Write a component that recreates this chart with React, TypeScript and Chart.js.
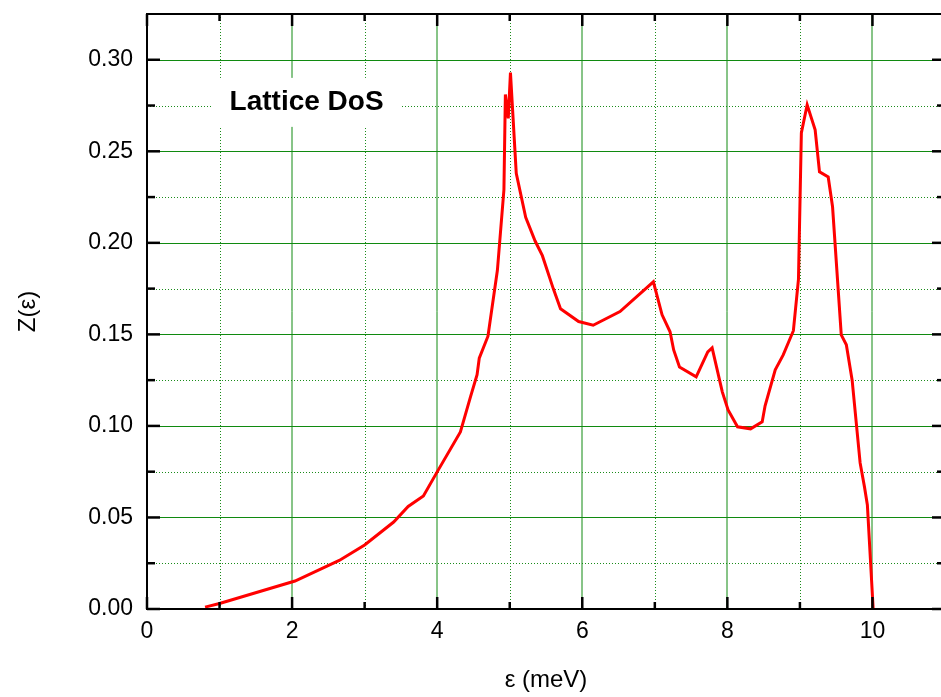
import React, { useEffect, useRef } from "react";
import { Chart, registerables } from "chart.js";

Chart.register(...registerables);

// Energy (meV) and density of states Z(ε)
const ENERGY = [
  0.8, 1.0, 2.04, 2.65, 3.0, 3.4, 3.6, 3.81, 4.0, 4.32, 4.46, 4.55, 4.58, 4.7, 4.83,
  4.92, 4.94, 4.98, 5.01, 5.09, 5.22, 5.35, 5.45, 5.6, 5.7, 5.95, 6.15, 6.52, 6.98,
  7.1, 7.21, 7.26, 7.34, 7.57, 7.73, 7.79, 7.93, 8.01, 8.14, 8.32, 8.48, 8.52, 8.66,
  8.77, 8.91, 8.98, 9.02, 9.1, 9.21, 9.27, 9.39, 9.45, 9.57, 9.64, 9.72, 9.83, 9.89,
  9.93, 10.01,
];
const DOS = [
  0.001, 0.003, 0.0153, 0.0265, 0.035, 0.0475, 0.056, 0.0617, 0.0749, 0.0967, 0.116,
  0.128, 0.137, 0.149, 0.185, 0.229, 0.281, 0.268, 0.293, 0.238, 0.214, 0.201, 0.193,
  0.175, 0.164, 0.157, 0.155, 0.1625, 0.1787, 0.1607, 0.1514, 0.1415, 0.1322, 0.1268,
  0.1404, 0.1426, 0.1186, 0.1087, 0.0995, 0.0984, 0.1022, 0.111, 0.1306, 0.1388,
  0.152, 0.18, 0.26, 0.2754, 0.2617, 0.2388, 0.236, 0.2197, 0.1497, 0.1443, 0.125,
  0.0798, 0.0667, 0.0568, 0.0,
];

const X_MIN = 0;
const X_MAX = 11;
const X_STEP = 2;
const Y_MIN = 0;
const Y_MAX = 0.325;
const Y_STEP = 0.05;
const X_MAJOR = [0, 2, 4, 6, 8, 10];
const X_MINOR = [1, 3, 5, 7, 9];
const Y_MAJOR = [0, 0.05, 0.1, 0.15, 0.2, 0.25, 0.3];
const Y_MINOR = [0.025, 0.075, 0.125, 0.175, 0.225, 0.275];

const X_TITLE = "ε (meV)";
const Y_TITLE = "Z(ε)";
const LABEL_TEXT = "Lattice DoS";
const LABEL_AT = { x: 2.2, y: 0.277 };

const FONT = "'Liberation Sans', Arial, Helvetica, sans-serif";

const framePlugin = {
  id: "frameGrid",
  beforeDatasetsDraw(chart: any) {
    const { ctx, chartArea: a, scales } = chart;
    const x = scales.x;
    const y = scales.y;
    ctx.save();
    const line = (x1: number, y1: number, x2: number, y2: number) => {
      ctx.beginPath();
      ctx.moveTo(x1, y1);
      ctx.lineTo(x2, y2);
      ctx.stroke();
    };
    // minor dotted grid
    ctx.strokeStyle = "#1a8c1a";
    ctx.lineWidth = 1;
    ctx.setLineDash([1, 2]);
    X_MINOR.forEach((v) => {
      const px = Math.round(x.getPixelForValue(v)) + 0.5;
      line(px, a.top, px, a.bottom);
    });
    Y_MINOR.forEach((v) => {
      const py = Math.round(y.getPixelForValue(v)) + 0.5;
      line(a.left, py, a.right, py);
    });
    // major solid grid
    ctx.setLineDash([]);
    ctx.strokeStyle = "#108a10";
    X_MAJOR.filter((v) => v !== X_MIN).forEach((v) => {
      const px = Math.round(x.getPixelForValue(v));
      line(px, a.top, px, a.bottom);
    });
    Y_MAJOR.filter((v) => v !== Y_MIN).forEach((v) => {
      const py = Math.round(y.getPixelForValue(v)) + 0.5;
      line(a.left, py, a.right, py);
    });
    ctx.restore();
  },
  afterDatasetsDraw(chart: any) {
    const { ctx, chartArea: a, scales } = chart;
    const x = scales.x;
    const y = scales.y;
    ctx.save();
    // label with white box
    const lx = x.getPixelForValue(LABEL_AT.x);
    const ly = y.getPixelForValue(LABEL_AT.y);
    ctx.font = `bold 28px ${FONT}`;
    const w = ctx.measureText(LABEL_TEXT).width;
    ctx.fillStyle = "#ffffff";
    ctx.fillRect(lx - w / 2 - 17, ly - 24, w + 34, 49);
    ctx.fillStyle = "#000000";
    ctx.textAlign = "center";
    ctx.textBaseline = "middle";
    ctx.fillText(LABEL_TEXT, lx, ly);

    // frame
    ctx.strokeStyle = "#000000";
    ctx.lineWidth = 2;
    ctx.setLineDash([]);
    ctx.beginPath();
    ctx.rect(a.left, a.top, a.right - a.left, a.bottom - a.top);
    ctx.stroke();

    // tick marks (inward)
    ctx.lineWidth = 2.5;
    const line = (x1: number, y1: number, x2: number, y2: number) => {
      ctx.beginPath();
      ctx.moveTo(x1, y1);
      ctx.lineTo(x2, y2);
      ctx.stroke();
    };
    const xt = (v: number, len: number) => {
      const px = x.getPixelForValue(v);
      line(px, a.bottom, px, a.bottom - len);
      line(px, a.top, px, a.top + len);
    };
    const yt = (v: number, len: number) => {
      const py = y.getPixelForValue(v);
      line(a.left, py, a.left + len, py);
      line(a.right, py, a.right - len, py);
    };
    X_MAJOR.forEach((v) => xt(v, 12));
    X_MINOR.forEach((v) => xt(v, 7));
    Y_MAJOR.forEach((v) => yt(v, 13));
    Y_MINOR.forEach((v) => yt(v, 8));
    ctx.restore();
  },
};

export default function App() {
  const canvasRef = useRef<HTMLCanvasElement | null>(null);

  useEffect(() => {
    const canvas = canvasRef.current;
    if (!canvas) return;
    const points = ENERGY.map((e, i) => ({ x: e, y: DOS[i] }));
    const chart = new Chart(canvas, {
      type: "line",
      data: {
        datasets: [
          {
            data: points,
            borderColor: "#ff0000",
            borderWidth: 3,
            pointRadius: 0,
            tension: 0,
            fill: false,
          },
        ],
      },
      options: {
        animation: false,
        responsive: false,
        devicePixelRatio: 1,
        parsing: false,
        layout: { padding: { top: 14, right: 0, left: 0, bottom: 0 } },
        plugins: {
          legend: { display: false },
          tooltip: { enabled: false },
        },
        scales: {
          x: {
            type: "linear",
            min: X_MIN,
            max: X_MAX,
            grid: { display: false, drawTicks: false },
            border: { display: false },
            ticks: {
              stepSize: X_STEP,
              includeBounds: false,
              padding: 9,
              color: "#000000",
              font: { family: FONT, size: 23 },
              maxRotation: 0,
            },
            title: {
              display: true,
              text: X_TITLE,
              color: "#000000",
              font: { family: FONT, size: 24 },
              padding: { top: 0, bottom: 2 },
            },
            afterFit: (s: any) => {
              s.height = 88;
              s.paddingLeft = 0;
              s.paddingRight = 0;
            },
          },
          y: {
            type: "linear",
            min: Y_MIN,
            max: Y_MAX,
            grid: { display: false, drawTicks: false },
            border: { display: false },
            ticks: {
              stepSize: Y_STEP,
              includeBounds: false,
              padding: 14,
              color: "#000000",
              font: { family: FONT, size: 23 },
              callback: (v: any) => Number(v).toFixed(2),
            },
            title: {
              display: true,
              text: Y_TITLE,
              color: "#000000",
              font: { family: FONT, size: 24 },
              padding: { top: 14, bottom: 0 },
            },
            afterFit: (s: any) => {
              s.width = 147;
              s.paddingTop = 0;
              s.paddingBottom = 0;
            },
          },
        },
      },
      plugins: [framePlugin],
    } as any);
    return () => chart.destroy();
  }, []);

  return (
    <div
      style={{
        position: "fixed",
        left: 0,
        top: 0,
        width: 941,
        height: 697,
        overflow: "hidden",
        background: "#ffffff",
      }}
    >
      <canvas
        ref={canvasRef}
        width={945}
        height={697}
        style={{ width: 945, height: 697, display: "block" }}
      />
    </div>
  );
}
